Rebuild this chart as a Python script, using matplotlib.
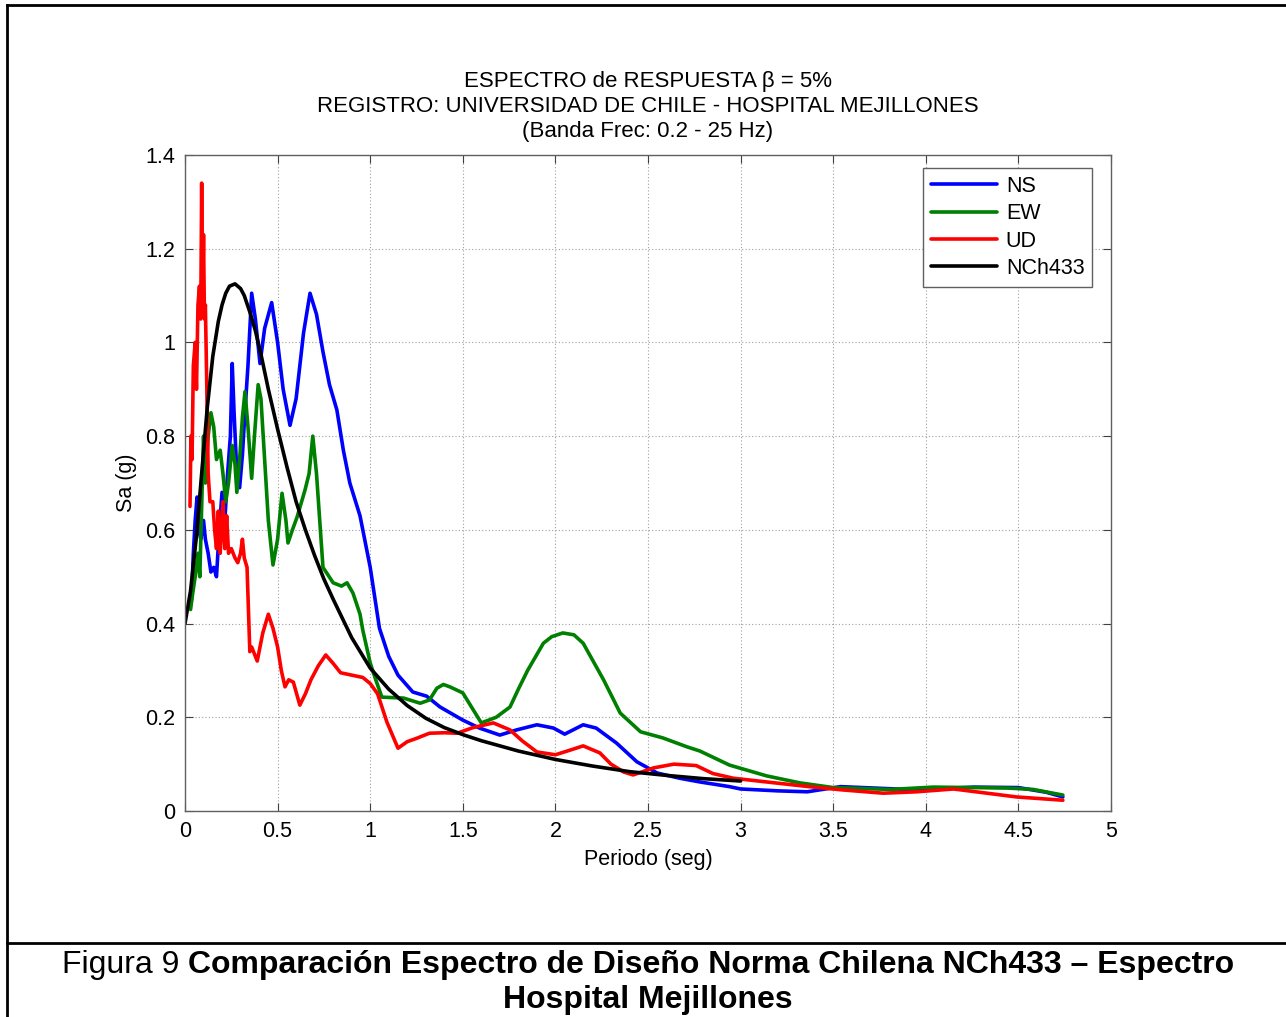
import matplotlib.pyplot as plt
from matplotlib.lines import Line2D

plt.rcParams["font.family"] = ["Liberation Sans", "DejaVu Sans"]

# espectro NS
ns_t = [0.035, 0.045, 0.055, 0.065, 0.075, 0.085, 0.1, 0.11, 0.125, 0.14, 0.155, 0.17,
        0.185, 0.2, 0.215, 0.23, 0.245, 0.255, 0.265, 0.28, 0.295, 0.31, 0.325, 0.34,
        0.36, 0.38, 0.405, 0.43, 0.468, 0.5, 0.53, 0.567, 0.6, 0.64, 0.675, 0.71, 0.745,
        0.78, 0.82, 0.855, 0.89, 0.945, 1.0, 1.05, 1.1, 1.15, 1.23, 1.305, 1.377, 1.5,
        1.59, 1.7, 1.79, 1.9, 1.99, 2.05, 2.15, 2.22, 2.33, 2.44, 2.55, 2.67, 2.78, 2.94,
        3.0, 3.2, 3.36, 3.54, 3.72, 3.9, 4.1, 4.26, 4.5, 4.65, 4.74]
ns_sa = [0.45, 0.55, 0.62, 0.67, 0.60, 0.58, 0.62, 0.58, 0.55, 0.51, 0.52, 0.50,
         0.60, 0.68, 0.62, 0.72, 0.80, 0.955, 0.85, 0.72, 0.69, 0.76, 0.86, 0.95,
         1.105, 1.05, 0.955, 1.03, 1.085, 1.0, 0.90, 0.823, 0.88, 1.02, 1.105, 1.06, 0.98,
         0.91, 0.856, 0.77, 0.70, 0.63, 0.52, 0.39, 0.33, 0.29, 0.254, 0.245, 0.222, 0.194,
         0.177, 0.162, 0.173, 0.184, 0.177, 0.164, 0.184, 0.177, 0.145, 0.105, 0.081, 0.07,
         0.062, 0.052, 0.047, 0.043, 0.041, 0.052, 0.049, 0.046, 0.048, 0.051, 0.05, 0.04,
         0.03]

# espectro EW
ew_t = [0.03, 0.04, 0.055, 0.07, 0.08, 0.09, 0.1, 0.11, 0.125, 0.14, 0.155, 0.17, 0.19,
        0.205, 0.22, 0.235, 0.255, 0.27, 0.28, 0.295, 0.31, 0.324, 0.34, 0.36, 0.375,
        0.395, 0.41, 0.43, 0.45, 0.475, 0.5, 0.524, 0.545, 0.556, 0.58, 0.605, 0.648,
        0.67, 0.69, 0.71, 0.745, 0.8, 0.845, 0.875, 0.907, 0.945, 0.96, 1.0, 1.03, 1.063,
        1.18, 1.27, 1.32, 1.36, 1.395, 1.43, 1.5, 1.55, 1.6, 1.68, 1.755, 1.8, 1.85,
        1.935, 1.98, 2.04, 2.1, 2.15, 2.26, 2.35, 2.46, 2.58, 2.71, 2.78, 2.94, 3.14, 3.32,
        3.5, 3.81, 4.04, 4.25, 4.44, 4.58, 4.74]
ew_sa = [0.43, 0.46, 0.50, 0.55, 0.50, 0.65, 0.80, 0.70, 0.80, 0.85, 0.82, 0.75, 0.77,
         0.72, 0.66, 0.70, 0.78, 0.74, 0.68, 0.75, 0.84, 0.895, 0.82, 0.71, 0.80,
         0.91, 0.88, 0.75, 0.62, 0.525, 0.58, 0.678, 0.62, 0.572, 0.60, 0.627, 0.685,
         0.72, 0.80, 0.72, 0.52, 0.487, 0.48, 0.487, 0.465, 0.42, 0.386, 0.316, 0.28, 0.243,
         0.241, 0.23, 0.237, 0.262, 0.27, 0.265, 0.252, 0.22, 0.188, 0.20, 0.222, 0.26, 0.30,
         0.358, 0.372, 0.38, 0.376, 0.358, 0.28, 0.209, 0.169, 0.156, 0.137, 0.128, 0.098, 0.075,
         0.06, 0.05, 0.046, 0.051, 0.05, 0.049, 0.046, 0.034]

# espectro UD
ud_t = [0.027, 0.032, 0.038, 0.045, 0.055, 0.062, 0.07, 0.078, 0.085, 0.09, 0.095, 0.1,
        0.105, 0.11, 0.118, 0.125, 0.135, 0.15, 0.16, 0.17, 0.18, 0.19, 0.2, 0.205, 0.215,
        0.225, 0.235, 0.25, 0.27, 0.285, 0.3, 0.31, 0.32, 0.335, 0.345, 0.35, 0.36, 0.39,
        0.42, 0.45, 0.475, 0.5, 0.52, 0.54, 0.56, 0.585, 0.62, 0.65, 0.68, 0.72, 0.76, 0.8,
        0.84, 0.9, 0.96, 1.0, 1.04, 1.09, 1.15, 1.2, 1.25, 1.32, 1.4, 1.47, 1.555, 1.665,
        1.755, 1.82, 1.9, 2.0, 2.08, 2.15, 2.24, 2.3, 2.37, 2.42, 2.53, 2.64, 2.76, 2.85,
        2.96, 3.14, 3.37, 3.55, 3.77, 3.95, 4.15, 4.33, 4.49, 4.74]
ud_sa = [0.65, 0.80, 0.75, 0.95, 1.0, 0.90, 1.08, 1.12, 1.05, 1.34, 1.08, 1.23,
         1.05, 1.08, 0.90, 0.72, 0.66, 0.66, 0.60, 0.56, 0.64, 0.55, 0.62, 0.66, 0.56,
         0.63, 0.55, 0.56, 0.54, 0.53, 0.55, 0.58, 0.54, 0.52, 0.40, 0.34, 0.35, 0.32,
         0.38, 0.42, 0.39, 0.35, 0.30, 0.265, 0.28, 0.275, 0.226, 0.25, 0.28, 0.31, 0.333, 0.315,
         0.295, 0.29, 0.285, 0.272, 0.25, 0.19, 0.134, 0.148, 0.155, 0.166, 0.167, 0.166, 0.178, 0.188,
         0.173, 0.15, 0.126, 0.12, 0.13, 0.139, 0.124, 0.10, 0.083, 0.077, 0.092, 0.10, 0.097, 0.08,
         0.07, 0.062, 0.052, 0.045, 0.038, 0.041, 0.047, 0.038, 0.03, 0.023]

# espectro de diseño NCh433
nch_t = [0.0, 0.03, 0.06, 0.09, 0.12, 0.15, 0.18, 0.2, 0.22, 0.24, 0.27, 0.3, 0.32, 0.35,
         0.38, 0.41, 0.45, 0.5, 0.55, 0.6, 0.65, 0.7, 0.75, 0.8, 0.9, 1.0, 1.1, 1.2, 1.3,
         1.4, 1.5, 1.6, 1.8, 2.0, 2.2, 2.4, 2.6, 2.8, 3.0]
nch_sa = [0.40, 0.47, 0.58, 0.72, 0.86, 0.97, 1.045, 1.08, 1.105, 1.12, 1.125, 1.115, 1.10,
          1.065, 1.025, 0.975, 0.90, 0.815, 0.735, 0.66, 0.60, 0.545, 0.495, 0.452, 0.37,
          0.305, 0.26, 0.225, 0.198, 0.178, 0.163, 0.150, 0.128, 0.110, 0.096, 0.084, 0.076,
          0.069, 0.064]

series_names = ["NS", "EW", "UD", "NCh433"]
series_colors = ["#0000ff", "#008000", "#ff0000", "#000000"]

x_ticks = [0, 0.5, 1, 1.5, 2, 2.5, 3, 3.5, 4, 4.5, 5]
x_tick_labels = ["0", "0.5", "1", "1.5", "2", "2.5", "3", "3.5", "4", "4.5", "5"]
y_ticks = [0, 0.2, 0.4, 0.6, 0.8, 1.0, 1.2, 1.4]
y_tick_labels = ["0", "0.2", "0.4", "0.6", "0.8", "1", "1.2", "1.4"]

FS = 15.5
W, H = 1286, 1017
fig = plt.figure(figsize=(W / 100, H / 100), dpi=100)
ax = fig.add_axes([185 / W, 1 - 811 / H, (1111 - 185) / W, (811 - 155) / H])

data = [(ns_t, ns_sa), (ew_t, ew_sa), (ud_t, ud_sa), (nch_t, nch_sa)]
for (t, sa), name, col in zip(data, series_names, series_colors):
    ax.plot(t, sa, color=col, linewidth=2.6, label=name,
            solid_joinstyle="round", solid_capstyle="round")

ax.set_xlim(0, 5)
ax.set_ylim(0, 1.4)
ax.set_xticks(x_ticks)
ax.set_xticklabels(x_tick_labels)
ax.set_yticks(y_ticks)
ax.set_yticklabels(y_tick_labels)
ax.tick_params(direction="in", length=6, width=0.8, color="#404040",
               top=True, right=True, labelsize=FS, pad=7)
ax.grid(True, linestyle=(0, (1, 2)), color="#a0a0a0", linewidth=0.8)
for sp in ax.spines.values():
    sp.set_color("#606060")
    sp.set_linewidth(1.0)

ax.set_xlabel("Periodo (seg)", fontsize=FS, labelpad=5)
ax.set_ylabel("Sa (g)", fontsize=FS, labelpad=6)
ax.set_title("ESPECTRO de RESPUESTA β = 5%\n"
             "REGISTRO: UNIVERSIDAD DE CHILE - HOSPITAL MEJILLONES\n"
             "(Banda Frec: 0.2 - 25 Hz)", fontsize=16, linespacing=1.26, pad=13)

leg = ax.legend(loc="upper right", bbox_to_anchor=(0.9795, 0.980), fontsize=FS,
                borderaxespad=0, handlelength=3.1, handletextpad=0.4, borderpad=0.35,
                labelspacing=0.3, fancybox=False, framealpha=1, edgecolor="#606060")
leg.get_frame().set_linewidth(1.0)

# marco de la página y separador del pie
fig.add_artist(Line2D([7 / W, 7 / W], [0, 1 - 5 / H], color="black", linewidth=2,
                      transform=fig.transFigure))
fig.add_artist(Line2D([7 / W, 1], [1 - 5 / H, 1 - 5 / H], color="black", linewidth=2,
                      transform=fig.transFigure))
fig.add_artist(Line2D([7 / W, 1], [1 - 943 / H, 1 - 943 / H], color="black", linewidth=2,
                      transform=fig.transFigure))

# pie de figura: parte normal + parte en negrita
cap_size = 23
y1 = 1 - 965 / H
t_norm = fig.text(0, y1, "Figura 9 ", fontsize=cap_size, va="center", ha="left")
t_bold = fig.text(0, y1, "Comparación Espectro de Diseño Norma Chilena NCh433 – Espectro",
                  fontsize=cap_size, fontweight="bold", va="center", ha="left")
fig.canvas.draw()
r = fig.canvas.get_renderer()
w1 = t_norm.get_window_extent(r).width
w2 = t_bold.get_window_extent(r).width
x0 = (648 - (w1 + w2) / 2) / W
t_norm.set_x(x0)
t_bold.set_x(x0 + w1 / W)
fig.text(648 / W, 1 - 1000 / H, "Hospital Mejillones", fontsize=cap_size,
         fontweight="bold", va="center", ha="center")

fig.savefig("out.png", dpi=100)
